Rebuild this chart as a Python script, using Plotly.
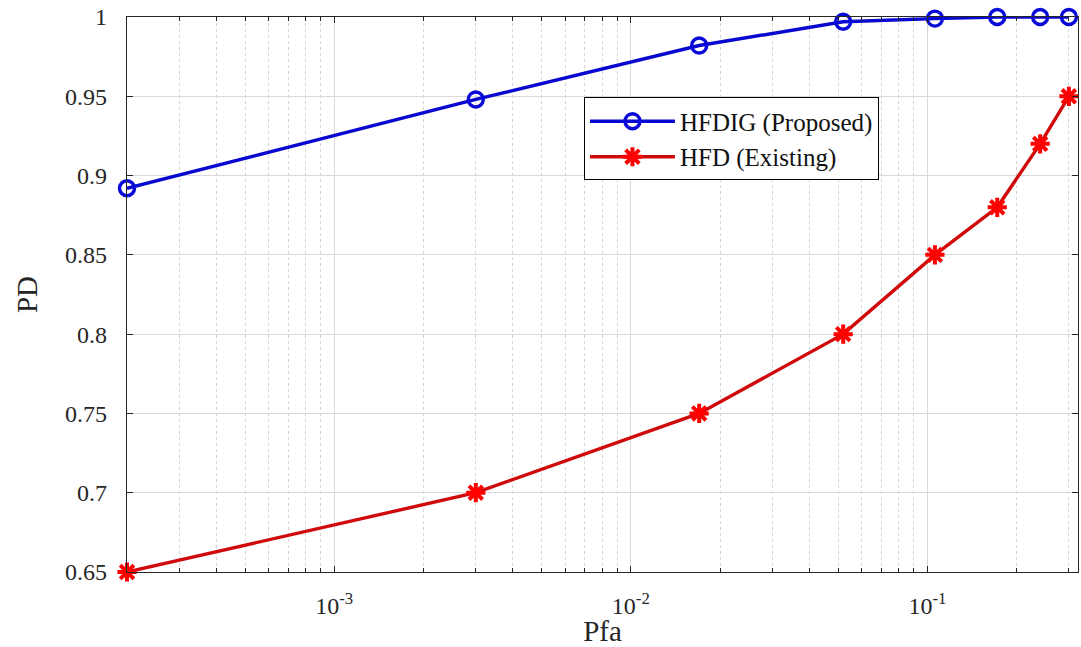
import plotly.graph_objects as go
import numpy as np

pfa = [2.0e-4, 3.0e-3, 1.7e-2, 5.2e-2, 1.06e-1, 1.72e-1, 2.4e-1, 3.0e-1]
pd_hfdig = [0.892, 0.948, 0.982, 0.997, 0.999, 1.0, 1.0, 1.0]
pd_hfd = [0.65, 0.70, 0.75, 0.80, 0.85, 0.88, 0.92, 0.95]
names = ["HFDIG (Proposed)", "HFD (Existing)"]
y_ticks = [0.65, 0.7, 0.75, 0.8, 0.85, 0.9, 0.95, 1.0]
y_text = ["0.65", "0.7", "0.75", "0.8", "0.85", "0.9", "0.95", "1"]
x_ticks = [1e-3, 1e-2, 1e-1]
x_text = ["10<sup>-3</sup>", "10<sup>-2</sup>", "10<sup>-1</sup>"]

minor_vals = [m * 10.0 ** e for e in (-4, -3, -2, -1) for m in range(2, 10)]

font_fam = "Times New Roman, Liberation Serif, DejaVu Serif, serif"
axcol = "#262626"

fig = go.Figure()
fig.add_trace(go.Scatter(
    x=pfa, y=pd_hfdig, name=names[0], mode="lines+markers",
    line=dict(color="#0808d0", width=3.4),
    marker=dict(symbol="circle-open", size=15, color="#0808d8", line=dict(width=3.4)),
    cliponaxis=False,
))
fig.add_trace(go.Scatter(
    x=pfa, y=pd_hfd, name=names[1], mode="lines+markers",
    line=dict(color="#d00a0a", width=3.4),
    marker=dict(symbol="asterisk-open", size=16, color="#ff0000", line=dict(width=4, color="#ff0000")),
    cliponaxis=False,
))

fig.update_layout(
    width=1081, height=647,
    margin=dict(l=127, r=3, t=17, b=75),
    paper_bgcolor="white", plot_bgcolor="white",
    font=dict(family=font_fam, color=axcol, size=24),
    showlegend=True,
    legend=dict(
        x=0.4805, y=0.855, xanchor="left", yanchor="top",
        bgcolor="white", bordercolor="#000000", borderwidth=1,
        font=dict(family=font_fam, size=25, color="#111111"),
        itemwidth=85, tracegroupgap=0,
    ),
)

fig.update_xaxes(
    type="log",
    range=[np.log10(2.0e-4), np.log10(0.322)],
    tickmode="array", tickvals=x_ticks, ticktext=x_text,
    ticks="inside", ticklen=6, tickcolor=axcol,
    showline=True, linecolor=axcol, linewidth=1.3, mirror="ticks",
    showgrid=True, gridcolor="#d9d9d9", gridwidth=1,
    zeroline=False,
    ticklabelstandoff=12,
    tickfont=dict(size=24, family=font_fam, color=axcol),
    minor=dict(tickmode="array", tickvals=minor_vals, ticks="inside", ticklen=4,
               tickcolor=axcol, showgrid=True, gridcolor="#d4d4d4", griddash="dot", gridwidth=1),
    title=dict(text="Pfa", font=dict(size=29, family=font_fam, color=axcol), standoff=2),
)
fig.update_yaxes(
    range=[0.65, 1.0],
    tickmode="array", tickvals=y_ticks, ticktext=y_text,
    ticks="inside", ticklen=6, tickcolor=axcol,
    showline=True, linecolor=axcol, linewidth=1.3, mirror="ticks",
    showgrid=True, gridcolor="#d9d9d9", gridwidth=1,
    zeroline=False,
    ticklabelstandoff=14,
    tickfont=dict(size=24, family=font_fam, color=axcol),
    title=dict(text="PD", font=dict(size=29, family=font_fam, color=axcol), standoff=18),
)

fig.write_html("out.html")
